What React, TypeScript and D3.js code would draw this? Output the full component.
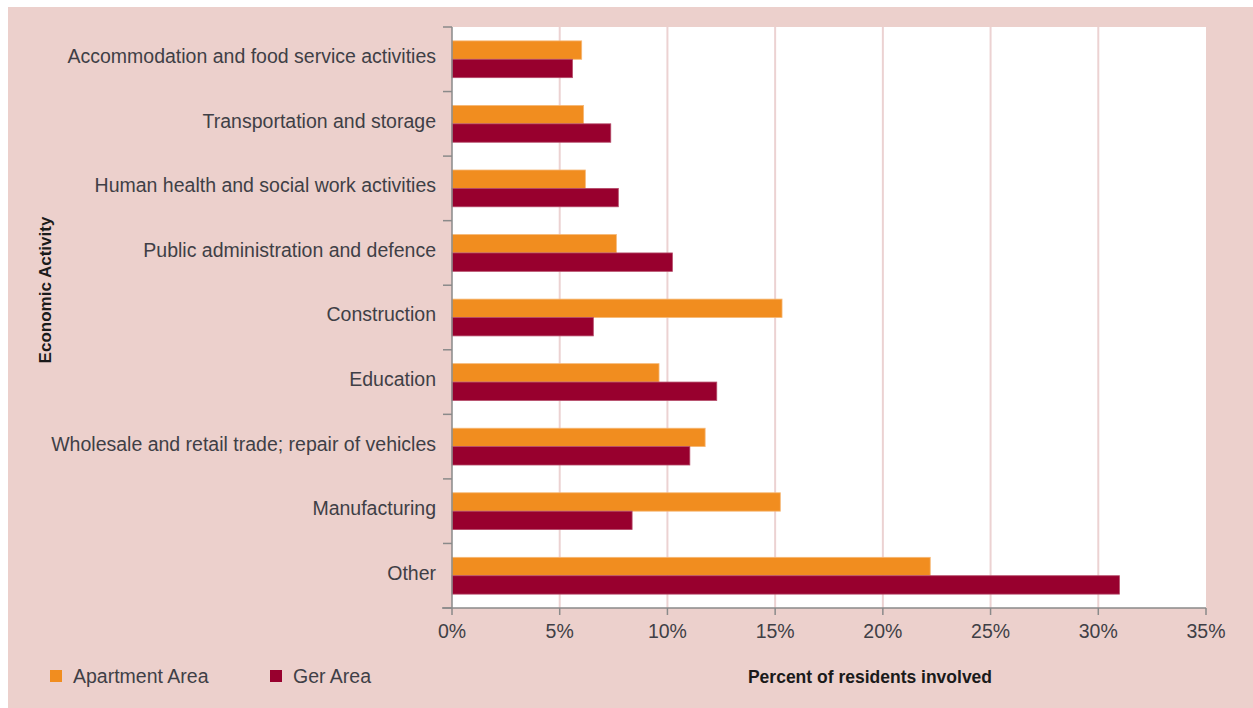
import React from "react";
import * as d3 from "d3";

const categories = [
  "Accommodation and food service activities",
  "Transportation and storage",
  "Human health and social work activities",
  "Public administration and defence",
  "Construction",
  "Education",
  "Wholesale and retail trade; repair of vehicles",
  "Manufacturing",
  "Other",
];
const seriesNames = ["Apartment Area", "Ger Area"];
const apartmentValues = [6.02, 6.11, 6.19, 7.63, 15.32, 9.61, 11.75, 15.24, 22.2];
const gerValues = [5.59, 7.37, 7.72, 10.23, 6.56, 12.29, 11.04, 8.36, 30.98];
const xTicks = [0, 5, 10, 15, 20, 25, 30, 35];
const colors = ["#f18d1f", "#98002e"];

const W = 1253;
const H = 708;
const left = 452;
const right = 1206;
const top = 27;
const bottom = 608;
const FONT = "'Liberation Sans', Arial, sans-serif";
const TEXT = "#3f3f46";

export default function App() {
  const x = d3.scaleLinear().domain([0, 35]).range([left, right]);
  const y = d3
    .scaleBand<string>()
    .domain(categories)
    .range([top, bottom])
    .paddingInner(0.43)
    .paddingOuter(0.215);
  const sub = d3.scaleBand<number>().domain([0, 1]).range([0, y.bandwidth()]);
  const step = y.step();
  const series = [apartmentValues, gerValues];
  const boundaries = d3.range(categories.length + 1).map((i) => top + i * step);

  return (
    <div style={{ position: "absolute", left: 0, top: 0 }}>
      <svg width={W} height={H} style={{ display: "block" }}>
        <rect x={0} y={0} width={W} height={H} fill="#ffffff" />
        <rect x={8} y={7} width={W - 8} height={H - 7} fill="#ecd0cc" />
        <rect x={left} y={top} width={right - left} height={bottom - top} fill="#ffffff" />
        {xTicks.slice(1, -1).map((t) => (
          <line key={"g" + t} x1={x(t)} x2={x(t)} y1={top} y2={bottom} stroke="#ecd2d2" strokeWidth={2} />
        ))}
        {categories.map((c, i) =>
          series.map((vals, s) => (
            <rect
              key={c + s}
              x={x(0)}
              y={(y(c) as number) + (sub(s) as number)}
              width={x(vals[i]) - x(0)}
              height={sub.bandwidth()}
              fill={colors[s]}
              stroke={s === 0 ? "#f6b877" : "#b44a68"}
              strokeWidth={0.8}
            />
          ))
        )}
        {/* axes */}
        <line x1={left} x2={left} y1={top} y2={bottom} stroke="#8a8a8a" strokeWidth={1.5} />
        <line x1={left - 10} x2={right} y1={bottom} y2={bottom} stroke="#8a8a8a" strokeWidth={1.5} />
        {boundaries.map((b, i) => (
          <line key={"yt" + i} x1={left - 9} x2={left} y1={b} y2={b} stroke="#8a8a8a" strokeWidth={1.5} />
        ))}
        {xTicks.map((t) => (
          <g key={"xt" + t}>
            <line x1={x(t)} x2={x(t)} y1={bottom} y2={bottom + 7} stroke="#8a8a8a" strokeWidth={1.5} />
            <text
              x={x(t)}
              y={638}
              textAnchor="middle"
              fontFamily={FONT}
              fontSize={19.5}
              fill={TEXT}
            >
              {t + "%"}
            </text>
          </g>
        ))}
        {categories.map((c) => (
          <text
            key={"l" + c}
            x={436}
            y={(y(c) as number) + y.bandwidth() / 2}
            dy="0.2em"
            textAnchor="end"
            fontFamily={FONT}
            fontSize={19.5}
            fill={TEXT}
          >
            {c}
          </text>
        ))}
        <text
          transform="translate(51,290) rotate(-90)"
          textAnchor="middle"
          fontFamily={FONT}
          fontWeight="bold"
          fontSize={17}
          fill="#1a1a1a"
        >
          Economic Activity
        </text>
        <text x={870} y={683} textAnchor="middle" fontFamily={FONT} fontWeight="bold" fontSize={17.5} fill="#1a1a1a">
          Percent of residents involved
        </text>
        {seriesNames.map((n, s) => {
          const lx = s === 0 ? 50 : 270;
          return (
            <g key={n}>
              <rect x={lx} y={670} width={12} height={12} fill={colors[s]} />
              <text x={lx + 23} y={683} fontFamily={FONT} fontSize={19.5} fill={TEXT}>
                {n}
              </text>
            </g>
          );
        })}
      </svg>
    </div>
  );
}
